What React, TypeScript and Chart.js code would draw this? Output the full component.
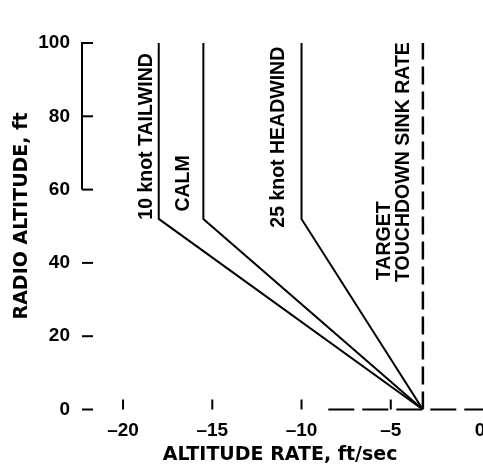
import React, { useEffect, useRef } from "react";
import { Chart, registerables } from "chart.js";

Chart.register(...registerables);

// ---- data ----
const radioAltitude = [100, 52, 0];
const tailwindRate = [-18, -18, -3.2];
const calmRate = [-15.5, -15.5, -3.2];
const headwindRate = [-10, -10, -3.2];
const targetSinkRate = [-3.2, -3.2];
const targetAltitude = [0, 100];

const xTickValues = [-20, -15, -10, -5, 0];
const xTickLabels = ["–20", "–15", "–10", "–5", "0"];
const yTickValues = [0, 20, 40, 60, 80, 100];
const yTickLabels = ["0", "20", "40", "60", "80", "100"];

const xTitle = "ALTITUDE RATE, ft/sec";
const yTitle = "RADIO ALTITUDE, ft";

const curveLabels = [
  { text: "10 knot TAILWIND", x: -18.7, y: 51.8 },
  { text: "CALM", x: -16.6, y: 54 },
  { text: "25 knot HEADWIND", x: -11.3, y: 49.6 },
  { text: "TARGET", x: -5.35, y: 35.3 },
  { text: "TOUCHDOWN SINK RATE", x: -4.3, y: 34.8 },
];

const CANVAS_W = 520;
const CANVAS_H = 465;
const LABEL_FONT = "bold 19.5px 'Liberation Sans', Arial, sans-serif";
const TITLE_FONT = "bold 19px 'DejaVu Sans', sans-serif";

const toPoints = (xs: number[], ys: number[]) => xs.map((v, i) => ({ x: v, y: ys[i] }));

const overlay = {
  id: "overlay",
  afterDatasetsDraw(chart: any) {
    const { ctx, chartArea: ca, scales } = chart;
    const x = scales.x;
    const y = scales.y;
    ctx.save();
    ctx.strokeStyle = "#000";
    ctx.fillStyle = "#000";
    ctx.lineWidth = 2;
    ctx.lineCap = "butt";

    // y axis line (visible part)
    ctx.beginPath();
    ctx.moveTo(ca.left, y.getPixelForValue(100) - 1);
    ctx.lineTo(ca.left, y.getPixelForValue(60));
    ctx.stroke();

    // inward y ticks
    yTickValues.forEach((v) => {
      const py = y.getPixelForValue(v);
      ctx.beginPath();
      ctx.moveTo(ca.left, py);
      ctx.lineTo(ca.left + 11, py);
      ctx.stroke();
    });

    // inward x ticks
    xTickValues
      .filter((v) => v < 0)
      .forEach((v) => {
        const px = x.getPixelForValue(v);
        ctx.beginPath();
        ctx.moveTo(px, ca.bottom);
        ctx.lineTo(px, ca.bottom - 10);
        ctx.stroke();
      });

    // dashed x axis line (visible part)
    ctx.setLineDash([26, 8]);
    ctx.beginPath();
    ctx.moveTo(x.getPixelForValue(-8.5), ca.bottom);
    ctx.lineTo(ca.right + 10, ca.bottom);
    ctx.stroke();
    ctx.setLineDash([]);

    // rotated curve labels
    ctx.font = LABEL_FONT;
    ctx.textAlign = "left";
    ctx.textBaseline = "middle";
    curveLabels.forEach((l) => {
      ctx.save();
      ctx.translate(x.getPixelForValue(l.x), y.getPixelForValue(l.y));
      ctx.rotate(-Math.PI / 2);
      ctx.fillText(l.text, 0, 0);
      ctx.restore();
    });

    // axis titles
    ctx.font = TITLE_FONT;
    ctx.textAlign = "center";
    ctx.textBaseline = "middle";
    ctx.fillText(xTitle, x.getPixelForValue(-11.2), ca.bottom + 46);
    ctx.save();
    ctx.translate(ca.left - 60, y.getPixelForValue(52.8));
    ctx.rotate(-Math.PI / 2);
    ctx.fillText(yTitle, 0, 0);
    ctx.restore();

    ctx.restore();
  },
};

export default function App() {
  const ref = useRef<HTMLCanvasElement | null>(null);

  useEffect(() => {
    if (!ref.current) return;
    const lineStyle = {
      showLine: true,
      borderColor: "#000",
      backgroundColor: "#000",
      borderWidth: 2,
      pointRadius: 0,
      fill: false,
      tension: 0,
    };
    const chart = new Chart(ref.current, {
      type: "scatter",
      data: {
        datasets: [
          { label: "10 knot TAILWIND", data: toPoints(tailwindRate, radioAltitude), ...lineStyle },
          { label: "CALM", data: toPoints(calmRate, radioAltitude), ...lineStyle },
          { label: "25 knot HEADWIND", data: toPoints(headwindRate, radioAltitude), ...lineStyle },
          {
            label: "TARGET TOUCHDOWN SINK RATE",
            data: toPoints(targetSinkRate, targetAltitude),
            ...lineStyle,
            borderWidth: 2.5,
            borderDash: [18, 7],
          },
        ],
      },
      options: {
        animation: false,
        responsive: false,
        maintainAspectRatio: false,
        layout: { padding: { left: 0, right: 40, top: 43, bottom: 0 } },
        plugins: {
          legend: { display: false },
          tooltip: { enabled: false },
          title: { display: false },
        },
        scales: {
          x: {
            type: "linear",
            min: -22.3,
            max: 0,
            grid: { display: false, drawTicks: false },
            border: { display: false },
            afterBuildTicks: (s: any) => {
              s.ticks = xTickValues.map((v) => ({ value: v }));
            },
            afterFit: (s: any) => {
              s.height = 55.5;
            },
            ticks: {
              autoSkip: false,
              maxRotation: 0,
              padding: 10,
              color: "#000",
              font: { family: "'Liberation Sans', Arial, sans-serif", size: 19, weight: "bold" },
              callback: (v: any) => {
                const i = xTickValues.indexOf(Number(v));
                return i >= 0 ? xTickLabels[i] : "";
              },
            },
          },
          y: {
            type: "linear",
            min: 0,
            max: 100,
            grid: { display: false, drawTicks: false },
            border: { display: false },
            afterBuildTicks: (s: any) => {
              s.ticks = yTickValues.map((v) => ({ value: v }));
            },
            afterFit: (s: any) => {
              s.width = 82;
            },
            ticks: {
              autoSkip: false,
              padding: 12,
              color: "#000",
              font: { family: "'Liberation Sans', Arial, sans-serif", size: 19, weight: "bold" },
              callback: (v: any) => {
                const i = yTickValues.indexOf(Number(v));
                return i >= 0 ? yTickLabels[i] : "";
              },
            },
          },
        },
      },
      plugins: [overlay],
    } as any);
    return () => chart.destroy();
  }, []);

  return (
    <div
      style={{
        position: "fixed",
        left: 0,
        top: 0,
        width: 483,
        height: 465,
        overflow: "hidden",
        background: "#fff",
      }}
    >
      <canvas
        ref={ref}
        width={CANVAS_W}
        height={CANVAS_H}
        style={{ display: "block", width: CANVAS_W, height: CANVAS_H }}
      />
    </div>
  );
}
